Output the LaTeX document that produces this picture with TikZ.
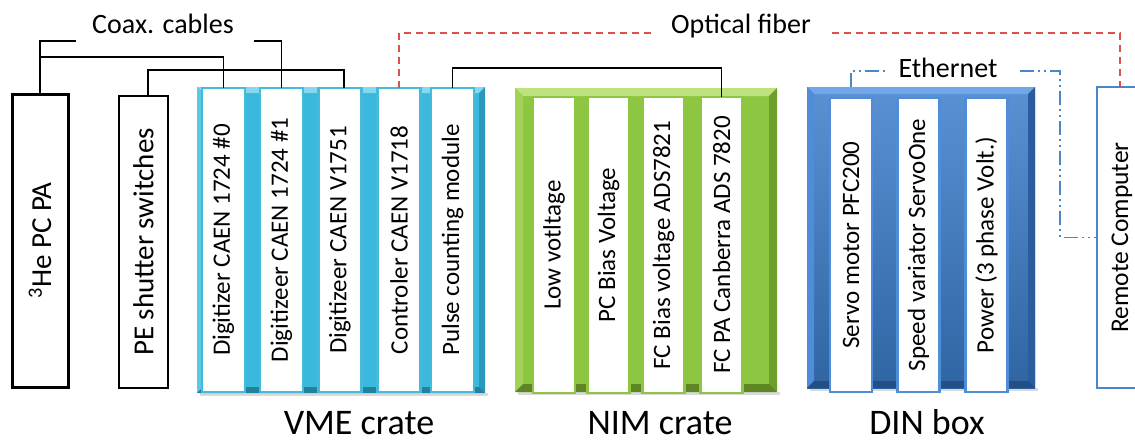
\documentclass[tikz,border=0pt]{standalone}
\usepackage{fontspec}
\setmainfont{Carlito}
\definecolor{vmeface}{HTML}{3BB9DC}
\definecolor{vmelight}{HTML}{86D8EF}
\definecolor{vmeside}{HTML}{5CC8E6}
\definecolor{vmedark}{HTML}{2A98BA}
\definecolor{vmecard}{HTML}{45BADB}
\definecolor{nimface}{HTML}{8DC641}
\definecolor{nimlight}{HTML}{BDE27E}
\definecolor{nimside}{HTML}{A2D257}
\definecolor{nimdark}{HTML}{6E9E2C}
\definecolor{nimcard}{HTML}{8EC642}
\definecolor{dinface}{HTML}{3C7ECC}
\definecolor{dinlight}{HTML}{71A7E6}
\definecolor{dinside}{HTML}{4F8DD8}
\definecolor{dindark}{HTML}{2A5C9E}
\definecolor{dincard}{HTML}{4F8DD8}
\definecolor{fiberred}{HTML}{E0504A}
\definecolor{ethblue}{HTML}{4A86C8}
\newcommand\mybevel[5]{%
 \fill[#3] (#1.north west) -- (#1.north east) -- ([shift={(-#2,#2)}]#1.north east) -- ([shift={(#2,#2)}]#1.north west) -- cycle;
 \fill[#4] (#1.north west) -- ([shift={(#2,#2)}]#1.north west) -- ([shift={(#2,-#2)}]#1.south west) -- (#1.south west) -- cycle;
 \fill[#5] (#1.north east) -- ([shift={(-#2,#2)}]#1.north east) -- ([shift={(-#2,-#2)}]#1.south east) -- (#1.south east) -- cycle;
 \fill[#5!85!black] (#1.south west) -- ([shift={(#2,-#2)}]#1.south west) -- ([shift={(-#2,-#2)}]#1.south east) -- (#1.south east) -- cycle;
}
\tikzset{
 box/.style={draw, rectangle, inner sep=0pt, outer sep=0pt, fill=white},
 cratebox/.style={rectangle, inner sep=0pt, outer sep=0pt},
 card/.style={box, line width=2.5pt},
 cardtext/.style={rotate=90, font=\fontsize{25}{29}\selectfont, inner sep=0pt},
 bigtext/.style={font=\fontsize{28}{32}\selectfont, inner sep=0pt},
 cratelabel/.style={font=\fontsize{36}{40}\selectfont, inner sep=0pt, anchor=base},
 wire/.style={line width=1.6pt, black},
 fiber/.style={line width=1.6pt, fiberred, dash pattern=on 7pt off 5pt},
 eth/.style={line width=1.6pt, ethblue, dash pattern=on 14pt off 4pt on 2pt off 4pt on 2pt off 4pt},
}
\begin{document}
\begin{tikzpicture}[x=1pt,y=-1pt]
\useasboundingbox (0,0) rectangle (1135,442);
\clip (0,0) rectangle (1135,442);
\fill[white] (0,0) rectangle (1135,442);

% left boxes
\node[box, line width=3pt, minimum width=56pt, minimum height=293pt] (he) at (40,240.5) {};
\node[rotate=90, font=\fontsize{29}{33}\selectfont, inner sep=0pt] at (he) {\textsuperscript{3}He PC PA};
\node[box, line width=1.6pt, minimum width=49pt, minimum height=292pt] (ps) at (143.5,242) {};
\node[rotate=90, font=\fontsize{29}{33}\selectfont, inner sep=0pt] at (ps) {PE shutter switches};

% VME crate
\fill[black!15] (200,393) rectangle (488,396);
\node[cratebox, fill=vmeface, minimum width=288pt, minimum height=306pt] (vme) at (341,240) {};
\mybevel{vme}{6}{vmelight}{vmeside}{vmedark}
\foreach \n/\x/\t in {d0/223.5/{Digitizer CAEN 1724 \#0},
                      d1/281.5/{Digitizeer CAEN 1724 \#1},
                      d2/340/{Digitizeer CAEN V1751},
                      ctl/399/{Controler CAEN V1718},
                      pc/452.5/{Pulse counting module}}{
  \node[card, draw=vmecard, minimum width=43pt, minimum height=304pt] (\n) at (\x,240) {};
  \node[cardtext] at (\n) {\t};
}

% NIM crate
\fill[black!15] (518,392) rectangle (780,395);
\node[cratebox, fill=nimface, minimum width=262pt, minimum height=304pt] (nim) at (646,240) {};
\mybevel{nim}{8}{nimlight}{nimside}{nimdark}
\foreach \n/\x/\t in {n1/554/{Low votltage},
                      n2/608.5/{PC Bias Voltage},
                      n3/663.5/{FC Bias voltage ADS7821},
                      n4/721.5/{FC PA Canberra ADS 7820}}{
  \node[card, draw=nimcard, minimum width=42pt, minimum height=296pt] (\n) at (\x,245) {};
  \node[cardtext] at (\n) {\t};
}

% DIN box
\fill[black!15] (810,388) rectangle (1038,391);
\node[cratebox, top color=dinface!85!white, bottom color=dinface!80!black, minimum width=228pt, minimum height=301pt] (din) at (921,237.5) {};
\mybevel{din}{7}{dinlight}{dinside}{dindark}
\foreach \n/\x/\t in {s1/851/{Servo motor PFC200},
                      s2/918.5/{Speed variator ServoOne},
                      s3/986.5/{Power (3 phase Volt.)}}{
  \node[card, draw=dincard, minimum width=42pt, minimum height=294pt] (\n) at (\x,245) {};
  \node[cardtext] at (\n) {\t};
}

% Remote computer
\node[box, draw=ethblue, line width=2.5pt, minimum width=50pt, minimum height=301pt] (rc) at (1122,237.5) {};
\node[rotate=90, font=\fontsize{25.5}{29}\selectfont, inner sep=0pt] at (rc) {Remote Computer};

% labels
\node[bigtext, anchor=base] (coax) at (163,33) {Coax. cables};
\node[bigtext, anchor=base] (opt) at (741,33) {Optical fiber};
\node[bigtext, anchor=base] (ethl) at (948,77) {Ethernet};
\node[cratelabel] at (359,434) {VME crate};
\node[cratelabel] at (660,434) {NIM crate};
\node[cratelabel] at (927,434) {DIN box};

% coax cables
\coordinate (coaxL) at (76,41);
\coordinate (coaxR) at (254,41);
\draw[wire] (he.north) |- (coaxL);
\draw[wire] (he.north |- 0,57) -| (d0.north);
\draw[wire] (d1.north) |- (coaxR);
\draw[wire] ([xshift=4.5pt]ps.north) -- ([xshift=4.5pt]ps.north |- 0,70) -| ([xshift=4pt]d2.north);
% pulse counting to FC PA
\draw[wire] (pc.north) -- (pc.north |- 0,68) -| (n4.north);
% optical fiber
\coordinate (optL) at (655,33);
\coordinate (optR) at (832,33);
\draw[fiber] (ctl.north) |- (optL);
\draw[fiber] (optR) -| ([xshift=-2pt]rc.north);
% ethernet
\coordinate (ethA) at (887,71);
\coordinate (ethB) at (1020,71);
\draw[eth] (s1.north |- din.north) |- (ethA);
\draw[eth] (ethB) -| ([xshift=-37pt]rc.west) -- (rc.west);
\end{tikzpicture}
\end{document}
